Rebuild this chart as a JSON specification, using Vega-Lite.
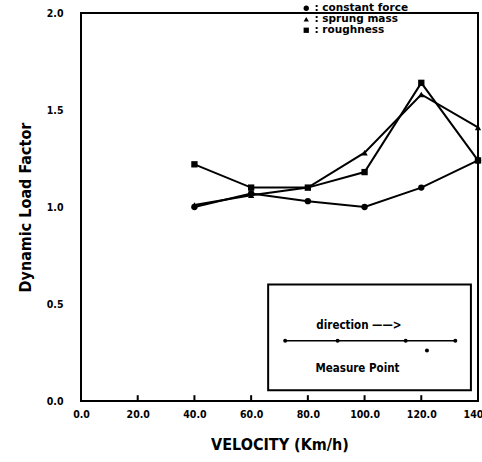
{
  "$schema": "https://vega.github.io/schema/vega-lite/v6.json",
  "width": 397,
  "height": 388,
  "autosize": {"type": "none"},
  "padding": {"left": 81, "top": 13, "right": 4, "bottom": 61},
  "background": "white",
  "config": {
    "font": "DejaVu Sans Condensed",
    "view": {"stroke": "black", "strokeWidth": 2},
    "axis": {"domain": false, "grid": false, "labelFont": "DejaVu Sans Condensed", "labelFontWeight": "bold", "labelColor": "black", "titleFont": "DejaVu Sans Condensed", "titleFontWeight": "bold", "titleColor": "black"}
  },
  "layer": [
    {
      "data": {"values": [
        {"series": "constant force", "v": 40, "dlf": 1.00},
        {"series": "constant force", "v": 60, "dlf": 1.07},
        {"series": "constant force", "v": 80, "dlf": 1.03},
        {"series": "constant force", "v": 100, "dlf": 1.00},
        {"series": "constant force", "v": 120, "dlf": 1.10},
        {"series": "constant force", "v": 140, "dlf": 1.24},
        {"series": "sprung mass", "v": 40, "dlf": 1.01},
        {"series": "sprung mass", "v": 60, "dlf": 1.06},
        {"series": "sprung mass", "v": 80, "dlf": 1.10},
        {"series": "sprung mass", "v": 100, "dlf": 1.28},
        {"series": "sprung mass", "v": 120, "dlf": 1.58},
        {"series": "sprung mass", "v": 140, "dlf": 1.41},
        {"series": "roughness", "v": 40, "dlf": 1.22},
        {"series": "roughness", "v": 60, "dlf": 1.10},
        {"series": "roughness", "v": 80, "dlf": 1.10},
        {"series": "roughness", "v": 100, "dlf": 1.18},
        {"series": "roughness", "v": 120, "dlf": 1.64},
        {"series": "roughness", "v": 140, "dlf": 1.24}
      ]},
      "mark": {"type": "line", "color": "black", "strokeWidth": 2, "point": {"filled": true, "color": "black", "size": 40}},
      "encoding": {
        "x": {"field": "v", "type": "quantitative", "scale": {"domain": [0, 140], "nice": false},
          "axis": {"values": [0, 20, 40, 60, 80, 100, 120, 140], "format": ".1f", "ticks": false, "labelPadding": 8, "labelFontSize": 10.5, "title": "VELOCITY  (Km/h)", "titleFontSize": 16, "titlePadding": 17, "labelFlush": false}},
        "y": {"field": "dlf", "type": "quantitative", "scale": {"domain": [0, 2], "nice": false},
          "axis": {"values": [0, 0.5, 1, 1.5, 2], "format": ".1f", "ticks": false, "labelPadding": 18, "labelFontSize": 10.5, "title": "Dynamic Load Factor", "titleFontSize": 16, "titlePadding": 13}},
        "shape": {"field": "series", "type": "nominal",
          "scale": {"domain": ["constant force", "sprung mass", "roughness"], "range": ["circle", "triangle-up", "square"]},
          "legend": {"orient": "none", "legendX": 220, "legendY": -10, "title": null, "labelExpr": "': ' + datum.label", "labelFont": "DejaVu Sans", "labelFontSize": 10.5, "labelFontWeight": "bold", "labelColor": "black", "symbolFillColor": "black", "symbolStrokeColor": "black", "symbolSize": 28, "rowPadding": -1, "labelOffset": 3}},
        "detail": {"field": "series"}
      }
    },
    {
      "data": {"values": [
        {"x": 20, "y1": 0, "y2": 0.03}, {"x": 40, "y1": 0, "y2": 0.03}, {"x": 60, "y1": 0, "y2": 0.03},
        {"x": 80, "y1": 0, "y2": 0.03}, {"x": 100, "y1": 0, "y2": 0.03}, {"x": 120, "y1": 0, "y2": 0.03}
      ]},
      "mark": {"type": "rule", "color": "black", "strokeWidth": 2},
      "encoding": {
        "x": {"field": "x", "type": "quantitative"},
        "y": {"field": "y1", "type": "quantitative"},
        "y2": {"field": "y2"}
      }
    },
    {
      "data": {"values": [{"x1": 66, "x2": 137.5, "y1": 0.055, "y2": 0.60}]},
      "mark": {"type": "rect", "fill": "white", "stroke": "black", "strokeWidth": 2},
      "encoding": {
        "x": {"field": "x1", "type": "quantitative"},
        "x2": {"field": "x2"},
        "y": {"field": "y1", "type": "quantitative"},
        "y2": {"field": "y2"}
      }
    },
    {
      "data": {"values": [{"x1": 72, "x2": 132, "y": 0.31}]},
      "mark": {"type": "rule", "color": "black", "strokeWidth": 1.5},
      "encoding": {
        "x": {"field": "x1", "type": "quantitative"},
        "x2": {"field": "x2"},
        "y": {"field": "y", "type": "quantitative"}
      }
    },
    {
      "data": {"values": [
        {"x": 72, "y": 0.31}, {"x": 90.5, "y": 0.31}, {"x": 114.5, "y": 0.31}, {"x": 132, "y": 0.31}, {"x": 122, "y": 0.26}
      ]},
      "mark": {"type": "point", "filled": true, "color": "black", "shape": "circle", "size": 16, "opacity": 1},
      "encoding": {
        "x": {"field": "x", "type": "quantitative"},
        "y": {"field": "y", "type": "quantitative"}
      }
    },
    {
      "data": {"values": [
        {"x": 98, "y": 0.385, "t": "direction  ——>"},
        {"x": 97.5, "y": 0.165, "t": "Measure Point"}
      ]},
      "mark": {"type": "text", "font": "DejaVu Sans Condensed", "fontWeight": "bold", "fontSize": 11.5, "color": "black"},
      "encoding": {
        "x": {"field": "x", "type": "quantitative"},
        "y": {"field": "y", "type": "quantitative"},
        "text": {"field": "t"}
      }
    }
  ]
}
